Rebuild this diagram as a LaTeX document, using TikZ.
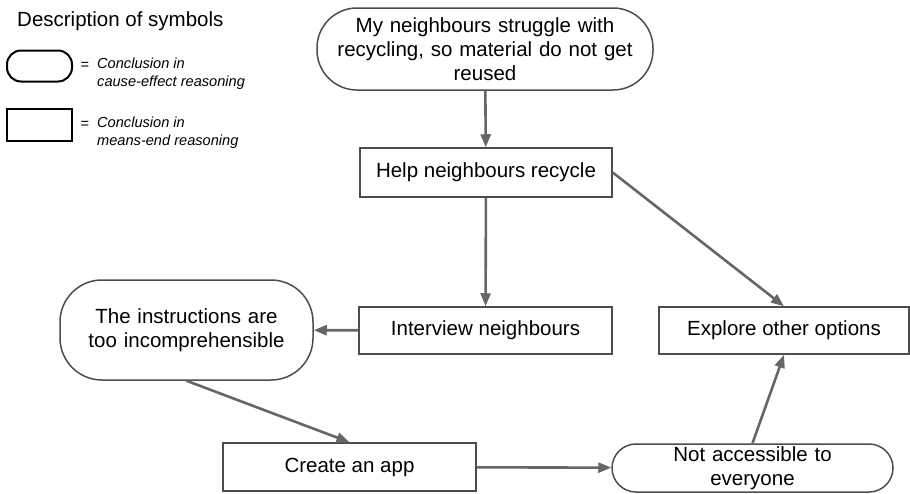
\documentclass[tikz,border=0pt]{standalone}
\usepackage{fontspec}
\setmainfont{Liberation Sans}
\usetikzlibrary{arrows.meta}
\definecolor{boxline}{HTML}{4D4D4D}
\definecolor{arrline}{HTML}{666666}
\begin{document}
\begin{tikzpicture}[x=1pt, y=-1pt,
  font=\fontsize{20.5}{24}\selectfont,
  means node/.style={rectangle,draw=boxline,line width=1.5pt,inner sep=0pt,align=center},
  cause node/.style={rectangle,draw=boxline,line width=1.5pt,inner sep=0pt,align=center},
  key text/.style={font=\fontsize{14.6}{18}\selectfont\itshape,align=left,anchor=west,inner sep=0pt},
  arr/.style={draw=arrline,line width=2.6pt,-{Triangle[length=13pt,width=10pt]}}]
\useasboundingbox (0,0) rectangle (910,493);
% legend
\begin{scope}
\node[anchor=west,inner sep=0pt] (title) at (17,21) {Description of symbols};
\node[draw=black,line width=2pt,rounded corners=14pt,minimum width=65pt,minimum height=31pt] (kcause) at (39.5,66) {};
\node[draw=black,line width=2pt,minimum width=65pt,minimum height=32pt] (kmeans) at (39.5,125) {};
\node[font=\fontsize{14.6}{18}\selectfont] (eq1) at (85,66) {=};
\node[font=\fontsize{14.6}{18}\selectfont] (eq2) at (85,125) {=};
\node[key text] (kcausetxt) at (97,74) {Conclusion in\\cause-effect reasoning};
\node[key text] (kmeanstxt) at (97,133) {Conclusion in\\means-end reasoning};
\end{scope}
% nodes
\begin{scope}
\node[cause node,rounded corners=40pt,minimum width=336pt,minimum height=82pt,text width=330pt] (problem) at (485,49) {My neighbours struggle with\\recycling, so material do not get\\reused};
\node[means node,minimum width=252pt,minimum height=49pt] (help) at (486,172.5) {Help neighbours recycle};
\node[means node,minimum width=253pt,minimum height=47pt] (interview) at (485.5,330.5) {Interview neighbours};
\node[means node,minimum width=250pt,minimum height=47pt] (explore) at (784,330.5) {Explore other options};
\node[cause node,rounded corners=42pt,minimum width=253pt,minimum height=100pt,text width=245pt] (instr) at (186.5,330) {The instructions are\\too incomprehensible};
\node[means node,minimum width=253pt,minimum height=48pt] (app) at (349.5,467) {Create an app};
\node[cause node,rounded corners=24pt,minimum width=281pt,minimum height=48pt,text width=270pt] (access) at (752.5,468) {Not accessible to\\everyone};
\end{scope}
% connectors
\begin{scope}
\draw[arr] (problem) -- (help);
\draw[arr] (help) -- (interview);
\draw[arr] (help.east) -- (explore.north);
\draw[arr] (interview) -- (instr);
\draw[arr] (instr.south) -- (app.north);
\draw[arr] (app) -- (access);
\draw[arr] (access.north) -- (explore.south);
\end{scope}
\end{tikzpicture}
\end{document}
